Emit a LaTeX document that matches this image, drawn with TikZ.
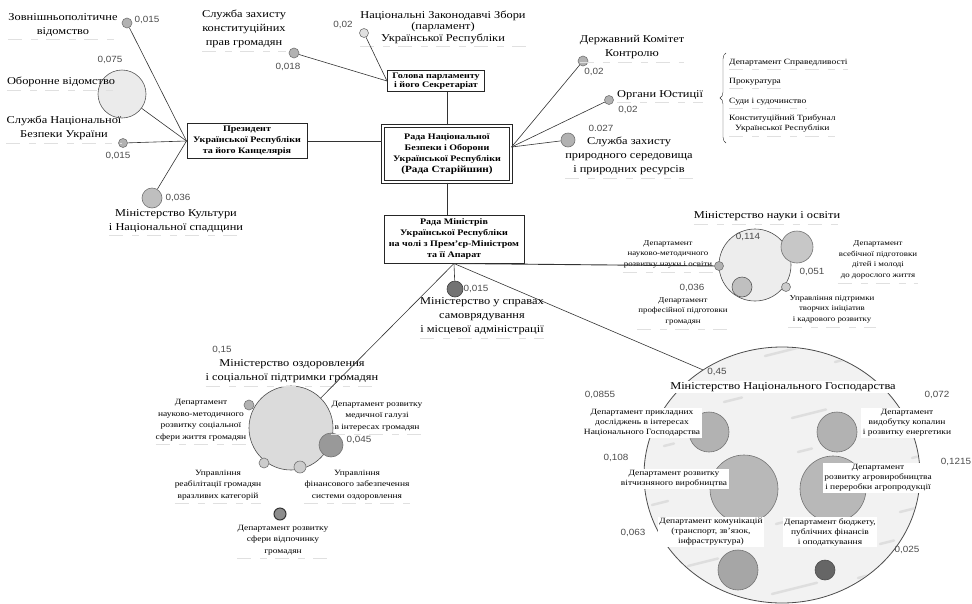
\documentclass[tikz,border=0pt]{standalone}
\usepackage{fontspec}
\setmainfont{Liberation Serif}[FakeStretch=1.18]
\newfontfamily\handfont{Liberation Sans}[FakeStretch=1.1]
\usetikzlibrary{shapes.geometric,decorations.pathreplacing}

\begin{document}
\begin{tikzpicture}[x=1pt,y=-1pt,
  lab/.style={align=center,inner sep=0pt,font=\fontsize{10.5}{14}\selectfont},
  dep/.style={align=center,inner sep=0pt,font=\fontsize{8}{11.5}\selectfont},
  sdep/.style={align=center,inner sep=1pt,font=\fontsize{7.5}{10.5}\selectfont},
  edep/.style={align=center,inner sep=1.5pt,fill=white,font=\fontsize{8}{10}\selectfont},
  val/.style={inner sep=0pt,text=black!70,font=\handfont\fontsize{9}{9}\selectfont},
  org/.style={draw=black!85,line width=1pt,align=center,inner sep=1pt,font=\bfseries\fontsize{8.5}{11}\selectfont},
  agency/.style={circle,draw=black!55,fill=black!30,line width=0.6pt,inner sep=0pt,minimum size=#1},
  agency/.default=8,
  link/.style={black!80,line width=0.6pt},
  guide/.style={black!12,line width=0.6pt,dash pattern=on 14pt off 9pt on 7pt off 8pt}
]
\useasboundingbox (0,0) rectangle (972,603);

\node[org,minimum width=120pt,minimum height=35pt] (president) at (247,141) {Президент\\Української Республіки\\та його Канцелярія};
\node[org,minimum width=97pt,minimum height=21pt,font=\bfseries\fontsize{8.5}{9.5}\selectfont] (chair) at (436,81) {Голова парламенту\\і його Секретаріат};
\node[org,double,double distance=1.2pt,line width=1.1pt,minimum width=128pt,minimum height=56pt] (council) at (447,154)
  {Рада Національної\\Безпеки і Оборони\\Української Республіки\\{\fontsize{9.5}{13}\selectfont(Рада Старійшин)}};
\node[org,minimum width=140pt,minimum height=48pt] (cabinet) at (454,239) {Рада Міністрів\\Української Республіки\\на чолі з Прем’єр-Міністром\\та її Апарат};

\node[lab] (foreign) at (63,25) {Зовнішньополітичне\\відомство};
\node[agency=10] (foreignC) at (127,23) {};
\node[val] (foreignV) at (147,20) {0,015};
\node[agency=48,fill=black!8,draw=black!65] (defenceC) at (122,94) {};
\node[val] (defenceV) at (110,60) {0,075};
\node[lab] (defence) at (61,82) {Оборонне відомство};
\node[lab] (security) at (64,128) {Служба Національної\\Безпеки України};
\node[agency=9] (securityC) at (123,143) {};
\node[val] (securityV) at (118,156) {0,015};
\node[agency=20,fill=black!25] (cultureC) at (152,198) {};
\node[val] (cultureV) at (178,198) {0,036};
\node[lab] (culture) at (176,221) {Міністерство Культури\\і Національної спадщини};

\node[lab] (rights) at (244,29) {Служба захисту\\конституційних\\прав громадян};
\node[agency=10] (rightsC) at (294,53) {};
\node[val] (rightsV) at (288,67) {0,018};
\node[agency=9,fill=black!12] (parlC) at (364,33) {};
\node[val] (parlV) at (343,25) {0,02};
\node[lab,font=\fontsize{10.5}{11.5}\selectfont] (parl) at (443,27) {Національні Законодавчі Збори\\(парламент)\\Української Республіки};

\node[lab] (control) at (632,47) {Державний Комітет\\Контролю};
\node[agency=10] (controlC) at (583,61) {};
\node[val] (controlV) at (594,72) {0,02};
\node[agency=9] (justiceC) at (609,100) {};
\node[lab,anchor=west] (justice) at (617,95) {Органи Юстиції};
\node[val] (justiceV) at (628,110) {0,02};
\node[agency=14] (natureC) at (568,140) {};
\node[val] (natureV) at (601,128) {0.027};
\node[lab] (nature) at (629,156) {Служба захисту\\природного середовища\\і природних ресурсів};

\draw[black!80,decorate,decoration={brace,amplitude=6pt}] (726,143) -- (726,53);
\node[dep,anchor=west] (justiceA) at (729,63) {Департамент Справедливості};
\node[dep,anchor=west] (justiceB) at (729,82) {Прокуратура};
\node[dep,anchor=west] (justiceD) at (729,102) {Суди і судочинство};
\node[dep,anchor=north west,font=\fontsize{8}{10}\selectfont] (justiceE) at (729,115) {Конституційний Трибунал\\Української Республіки};

\node[agency=16,fill=black!55,draw=black!75] (localC) at (455,289) {};
\node[val] (localV) at (476,289) {0,015};
\node[lab] (local) at (482,316) {Міністерство у справах\\самоврядування\\і місцевої адміністрації};

\node[agency=84,fill=black!14,draw=black!70] (healthC) at (291,428) {};
\node[agency=10] (healthA) at (249,405) {};
\node[agency=24,fill=black!40] (healthB) at (331,445) {};
\node[agency=10,fill=black!20] (healthD) at (264,463) {};
\node[agency=12,fill=black!20] (healthE) at (300,467) {};
\node[agency=12,fill=black!45,draw=black!80,line width=1pt] (healthF) at (280,514) {};
\node[val] (healthV) at (222,350) {0,15};
\node[lab] (health) at (292,371) {Міністерство оздоровлення\\і соціальної підтримки громадян};
\node[dep] (healthAL) at (201,420) {Департамент\\науково-методичного\\розвитку соціальної\\сфери життя громадян};
\node[dep] (healthBL) at (377,416) {Департамент розвитку\\медичної галузі\\в інтересах громадян};
\node[val] (healthBV) at (359,440) {0,045};
\node[dep] (healthDL) at (218,485) {Управління\\реабілітації громадян\\вразливих категорій};
\node[dep] (healthEL) at (357,485) {Управління\\фінансового забезпечення\\системи оздоровлення};
\node[dep] (healthFL) at (283,540) {Департамент розвитку\\сфери відпочинку\\громадян};

\node[agency=72,fill=black!7,draw=black!70] (scienceC) at (755,265) {};
\node[agency=32,fill=black!22] (scienceA) at (797,247) {};
\node[agency=9] (scienceB) at (719,266) {};
\node[agency=20,fill=black!25,draw=black!65] (scienceD) at (742,287) {};
\node[agency=9,fill=black!20] (scienceE) at (786,287) {};
\node[lab] (science) at (767,216) {Міністерство науки і освіти};
\node[val] (scienceV) at (748,237) {0,114};
\node[val] (scienceAV) at (812,272) {0,051};
\node[val] (scienceDV) at (692,288) {0,036};
\node[sdep] (scienceBL) at (668,254) {Департамент\\науково-методичного\\розвитку науки і освіти};
\node[sdep] (scienceAL) at (878,260) {Департамент\\всебічної підготовки\\дітей і молоді\\до дорослого життя};
\node[sdep] (scienceDL) at (683,311) {Департамент\\професійної підготовки\\громадян};
\node[sdep] (scienceEL) at (832,309) {Управління підтримки\\творчих ініціатив\\і кадрового розвитку};

\node[ellipse,draw=black!70,line width=0.8pt,fill=black!5,inner sep=0pt,minimum width=276pt,minimum height=256pt] (economyC) at (782,475) {};
\begin{scope}
\clip (782,475) ellipse [x radius=137, y radius=127];
\foreach \sx/\sy/\sl in {700/364/30,765/356/45,835/362/28,658/420/14,664/446/10,906/424/12,912/458/10,
  652/505/16,900/512/18,688/566/30,772/594/45,858/578/26,792/418/34,798/452/14,776/524/22,724/402/18,880/544/14}
  \draw[black!13,line width=2.5pt,line cap=round] (\sx,\sy) -- ++(\sl,-0.25*\sl);
\end{scope}
\node[agency=40] (economyA) at (709,432) {};
\node[agency=40] (economyB) at (837,432) {};
\node[agency=68,fill=black!28] (economyD) at (744,489) {};
\node[agency=66,fill=black!28] (economyE) at (833,489) {};
\node[agency=40,fill=black!35] (economyF) at (738,570) {};
\node[agency=20,fill=black!60,draw=black!70] (economyG) at (825,570) {};
\node[val] (economyV) at (717,372) {0,45};
\node[lab,fill=white,inner sep=1pt] (economy) at (783,387) {Міністерство Національного Господарства};
\node[val] (economyAV) at (600,395) {0,0855};
\node[edep] (economyAL) at (642,423) {Департамент прикладних\\досліджень в інтересах\\Національного Господарства};
\node[val] (economyBV) at (937,395) {0,072};
\node[edep] (economyBL) at (907,423) {Департамент\\видобутку копалин\\і розвитку енергетики};
\node[val] (economyDV) at (616,458) {0,108};
\node[edep] (economyDL) at (674,479) {Департамент розвитку\\вітчизняного виробництва};
\node[val] (economyEV) at (956,462) {0,1215};
\node[edep] (economyEL) at (878,478) {Департамент\\розвитку агровиробництва\\і переробки агропродукції};
\node[val] (economyFV) at (633,533) {0,063};
\node[edep] (economyFL) at (711,532) {Департамент комунікацій\\(транспорт, зв’язок,\\інфраструктура)};
\node[val] (economyGV) at (907,550) {0,025};
\node[edep] (economyGL) at (830,532) {Департамент бюджету,\\публічних фінансів\\і оподаткування};

\foreach \n in {foreign,defence,security,culture,rights,parl,control,justice,nature,local,health,
  healthAL,healthBL,healthDL,healthEL,healthFL,science,scienceBL,scienceAL,scienceDL,scienceEL,
  justiceA,justiceB,justiceD,justiceE}
  \draw[guide] ([yshift=-3pt]\n.south west) -- ([yshift=-3pt]\n.south east);

\draw[link] (foreignC) -- (president.west);
\draw[link] (defenceC) -- (president.west);
\draw[link] (securityC) -- (president.west);
\draw[link] (cultureC) -- (president.west);
\draw[link] (president.east) -- (president.east -| council.west);
\draw[link] (rightsC) -- (chair.west);
\draw[link] (parlC) -- (chair.west);
\draw[link] (council.north) -- (council.north |- chair.south);
\draw[link] ([yshift=7pt]council.east) -- (controlC);
\draw[link] ([yshift=7pt]council.east) -- (justiceC);
\draw[link] ([yshift=7pt]council.east) -- (natureC);
\draw[link] (council.south) -- (council.south |- cabinet.north);
\draw[link] (cabinet.south) -- (localC);
\draw[link] (cabinet.south) -- (healthC);
\draw[link,line width=0.9pt] (cabinet.south) -- (scienceB);
\draw[link] (cabinet.south) -- (economyC.127);
\end{tikzpicture}
\end{document}
